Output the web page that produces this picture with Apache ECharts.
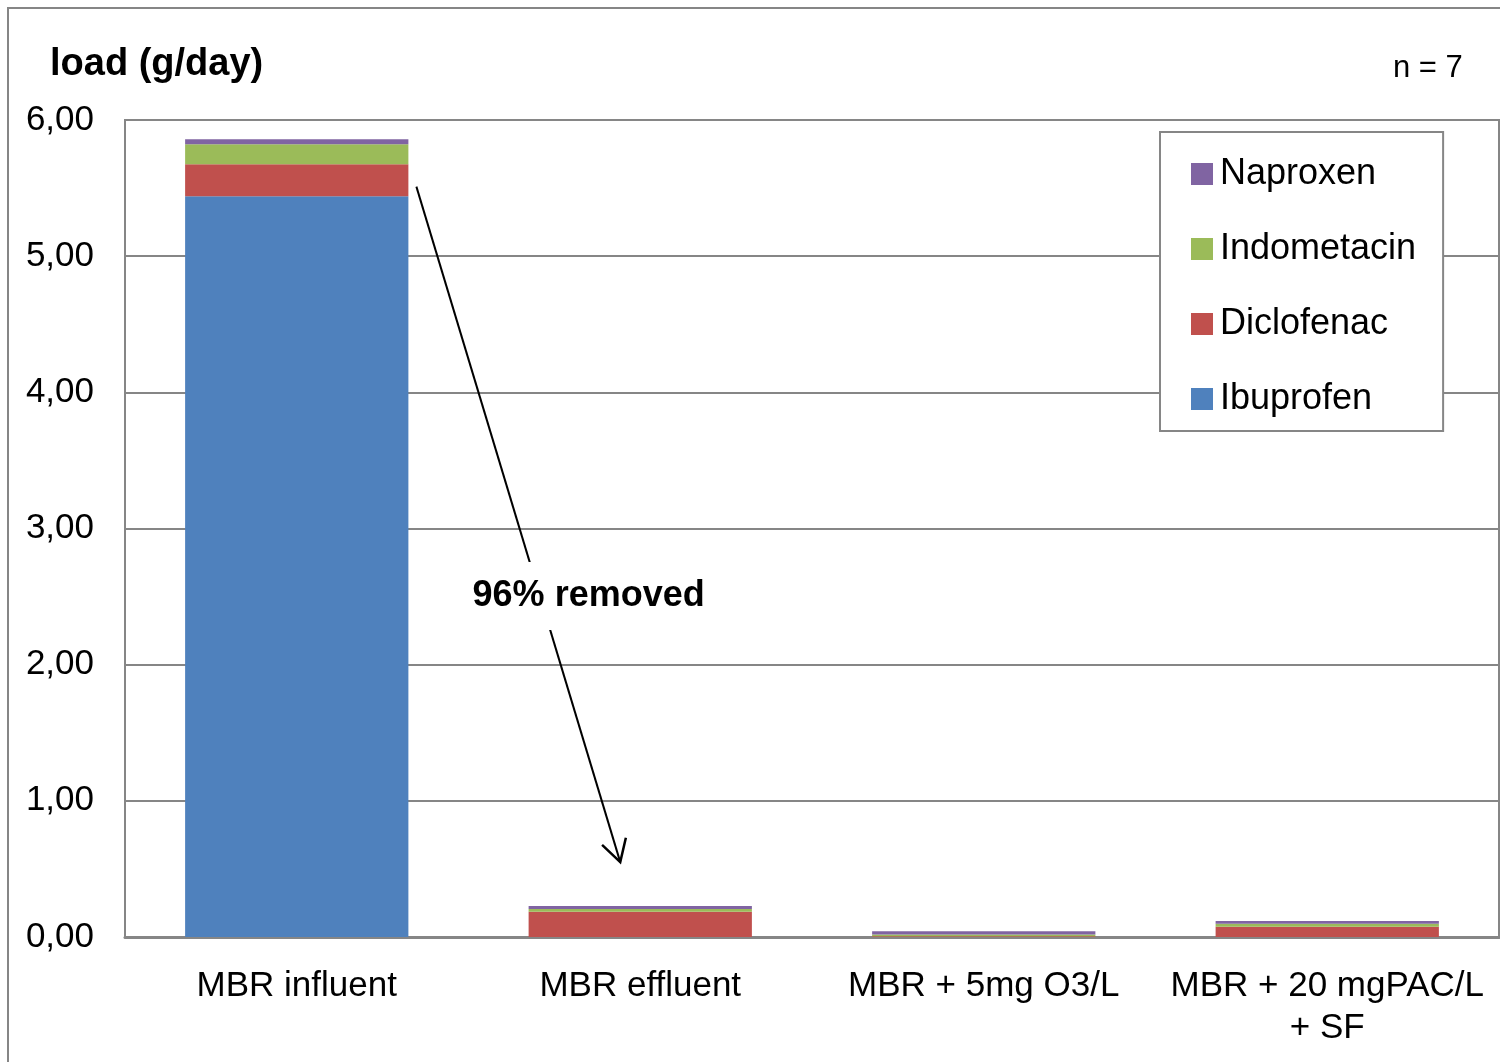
<!DOCTYPE html>
<html>
<head>
<meta charset="utf-8">
<script src="https://cdn.jsdelivr.net/npm/echarts@6/dist/echarts.min.js"></script>
<style>
  html, body { margin: 0; padding: 0; background: #fff; }
  #chart { width: 1500px; height: 1062px; }
</style>
</head>
<body>
<div id="chart"></div>
<script>
// Treatment stages along the x axis
const categories = ['MBR influent', 'MBR effluent', 'MBR + 5mg O3/L', 'MBR + 20 mgPAC/L\n+ SF'];

// Daily loads (g/day) per compound, stacked per stage
const ibuprofen   = [5.44, 0.000, 0.000, 0.000];
const diclofenac  = [0.235, 0.186, 0.005, 0.076];
const indometacin = [0.147, 0.020, 0.014, 0.022];
const naproxen    = [0.037, 0.022, 0.023, 0.019];

const yTicks = [0, 1, 2, 3, 4, 5, 6];

const FONT = '"Liberation Sans", Arial, sans-serif';
const GRAY = '#868686';

const chart = echarts.init(document.getElementById('chart'), null, { renderer: 'canvas' });

function barSeries(name, data, color) {
  return {
    name: name,
    type: 'bar',
    stack: 'load',
    data: data,
    barCategoryGap: '35%',
    itemStyle: { color: color },
    emphasis: { disabled: true },
    z: 3
  };
}

chart.setOption({
  animation: false,
  backgroundColor: '#fff',
  textStyle: { fontFamily: FONT },
  grid: {
    left: 125, right: 1, top: 120, bottom: 125,
    show: true, borderColor: GRAY, borderWidth: 2, backgroundColor: '#fff'
  },
  legend: {
    orient: 'vertical',
    left: 1160, top: 132,
    data: ['Naproxen', 'Indometacin', 'Diclofenac', 'Ibuprofen'],
    icon: 'rect',
    itemWidth: 22, itemHeight: 22, itemGap: 39,
    padding: [24, 27, 14, 31],
    backgroundColor: '#fff',
    borderColor: GRAY, borderWidth: 2,
    selectedMode: false,
    textStyle: { fontFamily: FONT, fontSize: 36, color: '#000', padding: [0, 0, 0, 2] }
  },
  xAxis: {
    type: 'category',
    data: categories,
    axisLine: { lineStyle: { color: GRAY, width: 3 } },
    axisTick: { show: false },
    axisLabel: { color: '#000', fontSize: 35, fontFamily: FONT, margin: 28, lineHeight: 42, interval: 0 }
  },
  yAxis: {
    type: 'value',
    min: yTicks[0], max: yTicks[yTicks.length - 1], interval: 1,
    axisLine: { show: true, lineStyle: { color: GRAY, width: 2 } },
    axisTick: { show: false },
    splitLine: { lineStyle: { color: GRAY, width: 2 } },
    axisLabel: {
      color: '#000', fontSize: 35, fontFamily: FONT, margin: 31,
      formatter: v => v.toFixed(2).replace('.', ',')
    }
  },
  series: [
    barSeries('Ibuprofen', ibuprofen, '#4F81BD'),
    barSeries('Diclofenac', diclofenac, '#C0504D'),
    barSeries('Indometacin', indometacin, '#9BBB59'),
    barSeries('Naproxen', naproxen, '#8064A2')
  ]
});

// Annotation: arrow from the influent stack down to the effluent stack, with a label
function drawAnnotation() {
  const start = chart.convertToPixel({ gridIndex: 0 }, [0, ibuprofen[0] + diclofenac[0] * 0.3]);
  const end = chart.convertToPixel({ gridIndex: 0 }, [1, 0.55]);
  const barHalf = 343.5 * 0.65 / 2;
  const x1 = start[0] + barHalf + 8, y1 = start[1];
  const x2 = end[0] - 20, y2 = end[1];
  const ang = Math.atan2(y2 - y1, x2 - x1);
  const head = 25, spread = 0.52;
  const hx1 = x2 - head * Math.cos(ang - spread), hy1 = y2 - head * Math.sin(ang - spread);
  const hx2 = x2 - head * Math.cos(ang + spread), hy2 = y2 - head * Math.sin(ang + spread);
  const t = (595 - y1) / (y2 - y1);
  const tx = x1 + (x2 - x1) * t;

  chart.setOption({
    graphic: [
      {
        type: 'rect', silent: true, z: 0,
        shape: { x: 8, y: 8, width: 1520, height: 1080 },
        style: { fill: 'none', stroke: GRAY, lineWidth: 2 }
      },
      {
        type: 'text', left: 50, top: 46, silent: true,
        style: { text: 'load (g/day)', font: 'bold 38px ' + FONT, fill: '#000' }
      },
      {
        type: 'text', left: 1393, top: 53, silent: true,
        style: { text: 'n = 7', font: '31px ' + FONT, fill: '#000' }
      },
      {
        type: 'line', silent: true, z: 10,
        shape: { x1: x1, y1: y1, x2: x2, y2: y2 },
        style: { stroke: '#000', lineWidth: 2 }
      },
      {
        type: 'polyline', silent: true, z: 10,
        shape: { points: [[hx1, hy1], [x2, y2], [hx2, hy2]] },
        style: { stroke: '#000', lineWidth: 2.5, fill: 'none' }
      },
      {
        type: 'text', silent: true, z: 11,
        x: tx + 49, y: 596,
        style: {
          text: '96% removed', font: 'bold 36px ' + FONT, fill: '#000',
          align: 'center', verticalAlign: 'middle',
          backgroundColor: '#fff', padding: [16, 6, 16, 6]
        }
      }
    ]
  });
}
drawAnnotation();
</script>
</body>
</html>
